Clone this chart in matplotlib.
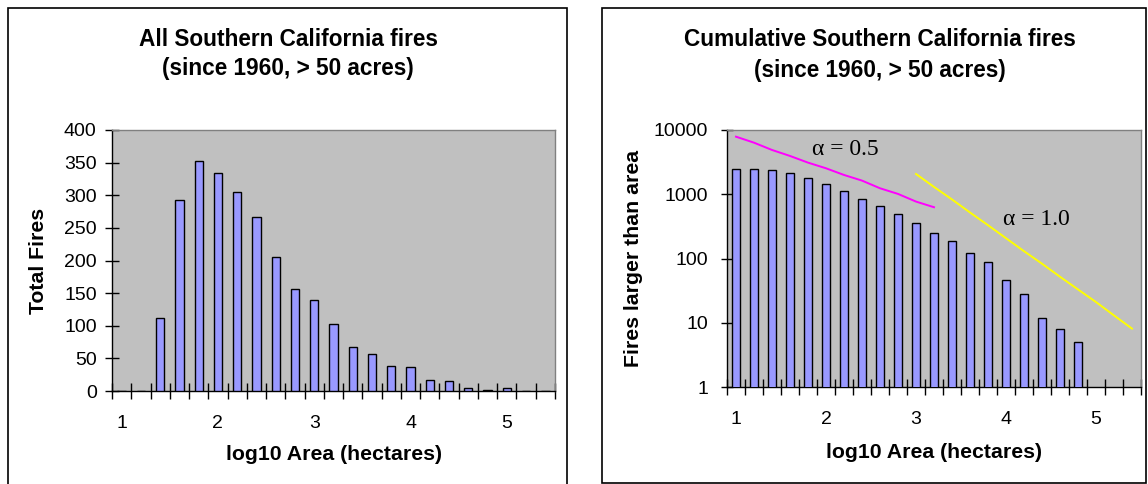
import matplotlib
matplotlib.use("Agg")
import matplotlib.pyplot as plt
from matplotlib.patches import Rectangle
from matplotlib.ticker import FixedLocator, NullLocator, FuncFormatter

plt.rcParams['font.family'] = ['Liberation Sans', 'DejaVu Sans']

# log10 area bins (hectares), one category every 0.2
area_bins = [1.0, 1.2, 1.4, 1.6, 1.8, 2.0, 2.2, 2.4, 2.6, 2.8, 3.0, 3.2,
             3.4, 3.6, 3.8, 4.0, 4.2, 4.4, 4.6, 4.8, 5.0, 5.2, 5.4]

# fires per bin
fire_counts = [0, 0, 112, 293, 353, 334, 305, 267, 205, 156, 139, 102,
               68, 57, 39, 37, 17, 15, 5, 2, 4, 0, 0]

# fires larger than each area (cumulative, 1.0 .. 4.8)
cum_bins = [1.0, 1.2, 1.4, 1.6, 1.8, 2.0, 2.2, 2.4, 2.6, 2.8, 3.0, 3.2,
            3.4, 3.6, 3.8, 4.0, 4.2, 4.4, 4.6, 4.8]
cum_counts = [2506, 2506, 2390, 2172, 1774, 1449, 1113, 857, 666, 489,
              358, 250, 184, 122, 87, 46, 28, 12, 8, 5]

# reference power-law slopes
alpha05_x = [1.0, 1.2, 1.4, 1.6, 1.8, 2.0, 2.2, 2.4, 2.6, 2.8, 3.0, 3.2]
alpha05_y = [7870, 6350, 4890, 3945, 3106, 2536, 1996, 1631, 1239, 1012, 769, 628]
alpha10_x = [3.0, 3.2, 3.4, 3.6, 3.8, 4.0, 4.2, 4.4, 4.6, 4.8, 5.0, 5.2, 5.4]
alpha10_y = [2070, 1300, 830, 520, 330, 207, 130, 83, 52, 33, 21, 13, 8.1]

x_labels = [1, 2, 3, 4, 5]
left_yticks = [0, 50, 100, 150, 200, 250, 300, 350, 400]
right_yticks = [1, 10, 100, 1000, 10000]

W, H = 1148, 484
fig = plt.figure(figsize=(W / 100, H / 100), dpi=100)
fig.patch.set_facecolor('white')

BAR = '#9999FF'
PLOT_BG = '#C0C0C0'
TICK_FS = 14
LABEL_FS = 15.3
TITLE_FS = 16.3


def px_axes(x0, y0, x1, y1):
    return fig.add_axes([x0 / W, 1 - y1 / H, (x1 - x0) / W, (y1 - y0) / H])


def style_axes(ax):
    ax.set_facecolor(PLOT_BG)
    for side in ('top', 'right'):
        ax.spines[side].set_color('#808080')
        ax.spines[side].set_linewidth(1.0)
    for side in ('left', 'bottom'):
        ax.spines[side].set_color('black')
        ax.spines[side].set_linewidth(1.0)
    edges = [round(0.9 + 0.2 * k, 1) for k in range(24)]
    ax.set_xlim(0.9, 5.5)
    ax.xaxis.set_major_locator(FixedLocator(x_labels))
    ax.xaxis.set_minor_locator(FixedLocator(edges))
    ax.tick_params(axis='x', which='major', length=0, pad=17, labelsize=TICK_FS)
    ax.tick_params(axis='x', which='minor', direction='inout', length=11,
                   width=1.0, color='black')


# panel frames
fig.add_artist(Rectangle((8 / W, -0.05), (567 - 8) / W, 1.05 - 8 / H,
                         transform=fig.transFigure, fill=False,
                         edgecolor='black', linewidth=1.2))
fig.add_artist(Rectangle((602 / W, 1 - 483 / H), (1146 - 602) / W, (483 - 8) / H,
                         transform=fig.transFigure, fill=False,
                         edgecolor='black', linewidth=1.2))

# ---- left: histogram of all fires ----
ax1 = px_axes(112, 130, 555, 391)
style_axes(ax1)
ax1.bar(area_bins, fire_counts, width=0.086, color=BAR, edgecolor='black',
        linewidth=1.0, zorder=3)
ax1.set_ylim(0, 400)
ax1.set_yticks(left_yticks)
ax1.tick_params(axis='y', direction='inout', length=10, width=1.0, pad=6,
                labelsize=TICK_FS)
ax1.set_xlabel('log10 Area (hectares)', fontsize=LABEL_FS, fontweight='bold',
               va='center')
ax1.xaxis.set_label_coords(0.5, (391 - 454) / 261)
ax1.set_ylabel('Total Fires', fontsize=LABEL_FS, fontweight='bold', va='center')
ax1.yaxis.set_label_coords((39 - 112) / 443, 0.5)

fig.text(288 / W, 1 - 39 / H, 'All Southern California fires', ha='center',
         va='center', fontsize=TITLE_FS, fontweight='bold')
fig.text(288 / W, 1 - 69 / H, '(since 1960, > 50 acres)', ha='center',
         va='center', fontsize=TITLE_FS, fontweight='bold')

# ---- right: cumulative counts on a log axis ----
ax2 = px_axes(727, 130, 1141, 387)
style_axes(ax2)
ax2.set_yscale('log')
ax2.bar(cum_bins, cum_counts, width=0.096, color=BAR, edgecolor='black',
        linewidth=1.0, zorder=3)
ax2.plot(alpha05_x, alpha05_y, color='#FF00FF', linewidth=1.4, zorder=4)
ax2.plot(alpha10_x, alpha10_y, color='#FFFF00', linewidth=1.4, zorder=4)
ax2.set_ylim(1, 10000)
ax2.yaxis.set_major_locator(FixedLocator(right_yticks))
ax2.yaxis.set_minor_locator(NullLocator())
ax2.yaxis.set_major_formatter(FuncFormatter(lambda v, p: f'{int(round(v))}'))
ax2.tick_params(axis='y', direction='inout', length=9, width=1.0, pad=9,
                labelsize=TICK_FS)
ax2.set_xlabel('log10 Area (hectares)', fontsize=LABEL_FS, fontweight='bold',
               va='center')
ax2.xaxis.set_label_coords(0.5, (387 - 452) / 257)
ax2.set_ylabel('Fires larger than area', fontsize=LABEL_FS, fontweight='bold',
               va='center')
ax2.yaxis.set_label_coords((633.5 - 727) / 414, 0.5)

serif = ['Liberation Serif', 'DejaVu Serif']
ax2.text(2.22, 5000, 'α = 0.5', family=serif, fontsize=17,
         ha='center', va='center', zorder=5)
ax2.text(4.34, 400, 'α = 1.0', family=serif, fontsize=17,
         ha='center', va='center', zorder=5)

fig.text(880 / W, 1 - 40 / H, 'Cumulative Southern California fires',
         ha='center', va='center', fontsize=TITLE_FS, fontweight='bold')
fig.text(880 / W, 1 - 70 / H, '(since 1960, > 50 acres)', ha='center',
         va='center', fontsize=TITLE_FS, fontweight='bold')

fig.savefig('out.png', dpi=100, facecolor='white')
